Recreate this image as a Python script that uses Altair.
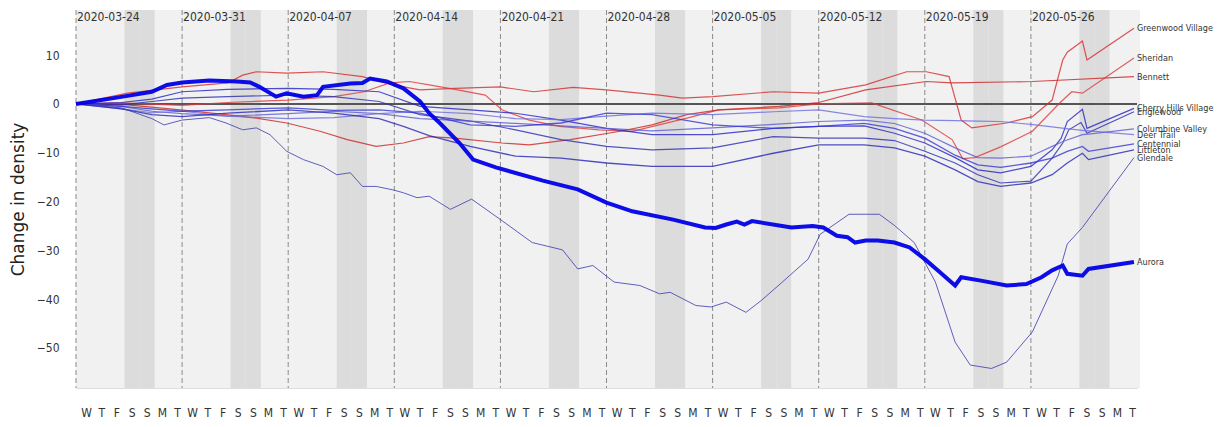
import altair as alt
import pandas as pd

# ---------------- data ----------------
week_labels = ["2020-03-24", "2020-03-31", "2020-04-07", "2020-04-14", "2020-04-21",
               "2020-04-28", "2020-05-05", "2020-05-12", "2020-05-19", "2020-05-26"]
week_days = [0, 7, 14, 21, 28, 35, 42, 49, 56, 63]
day_letters = ["W", "T", "F", "S", "S", "M", "T"] * 10

greenwood_days = [0, 3.4, 7, 10, 11, 11.9, 13.9, 16.3, 18.9, 20.9, 22.7, 25, 28, 30.2, 32.8, 35, 38.5,
                  40, 42, 46, 49, 52.1, 54.8, 56.1, 57.6, 58.4, 59.1, 61.4, 63.1, 64.4, 65.1, 65.4,
                  66.4, 66.7, 69.8]
greenwood_vals = [0, 2.2, 3.5, 4.3, 5.9, 6.6, 6.3, 6.6, 5.6, 3.9, 2.9, 3.2, 3.5, 2.5, 3.4, 2.9, 1.8,
                  1.2, 1.5, 2.5, 2.2, 3.9, 6.6, 6.6, 5.6, -3.3, -4.9, -3.9, -2.6, 0.8, 9.0, 10.6,
                  12.9, 9.0, 15.5]

sheridan_days = [0, 3, 7, 10, 14, 17, 19, 20.7, 22, 23.3, 25, 27, 28.1, 29.9, 31.9, 34.5, 36.7, 40.3,
                 42.4, 46.4, 49, 52.5, 55.8, 57.8, 58.5, 59.3, 61, 63.1, 64.9, 65.7, 66.4, 69.8]
sheridan_vals = [0, 0.2, -0.3, 0.3, 0.8, 1.5, 2.5, 4.3, 4.6, 3.9, 3.0, 1.8, -1.2, -3.3, -4.6, -5.3, -5.6,
                 -2.9, -1.2, -0.8, 0.0, 0.2, -3.3, -7.3, -11.2, -11.0, -8.8, -5.6, 0.2, 2.5, 2.2, 9.4]

bennett_days = [0, 3.4, 6.9, 9.9, 11.9, 13.9, 16.1, 17.9, 19.8, 21.6, 23.3, 25, 28.1, 29.9, 32.6, 35.9,
                38, 40.3, 42.4, 46.4, 49, 52.1, 56.1, 57.8, 63.1, 69.8]
bennett_vals = [0, -0.2, -1.2, -2.2, -2.9, -3.9, -5.6, -7.3, -8.7, -8.0, -6.7, -7.0, -8.0, -8.4, -7.3, -5.6,
                -4.3, -2.2, -1.2, -0.5, 0.3, 2.9, 4.6, 4.3, 4.6, 5.6]

cherry_days = [0, 3, 5, 7, 10, 14, 17, 20, 22.7, 26, 29, 32, 35, 38, 42, 46, 49, 52, 54, 56, 58, 59.5,
               61, 63, 64.4, 65, 65.4, 66.4, 66.7, 69.8]
cherry_vals = [0, 0.3, 1.0, 2.5, 3.0, 3.2, 3.0, 2.5, -0.5, -1.2, -1.9, -3.3, -5.0, -6.3, -6.3, -5.0, -4.6,
               -4.5, -6.0, -8.0, -11.0, -13.5, -14.1, -12.8, -9.4, -7.0, -3.6, -1.1, -5.0, -0.9]

englewood_days = [0, 3, 5, 7, 10, 14, 17, 20, 22.7, 26, 29, 32, 35, 38, 42, 46, 49, 52, 54, 56, 58, 59.5,
                  61, 63, 64.4, 65.1, 65.5, 66.3, 66.7, 69.8]
englewood_vals = [0, -0.2, 0.5, 1.2, 1.5, 1.8, 1.5, 0.5, -2.2, -3.5, -5.3, -7.3, -8.7, -9.4, -9.0, -6.7,
                  -7.0, -7.0, -7.5, -9.7, -12.1, -14.5, -16.2, -15.8, -11.1, -8.0, -5.3, -3.8, -6.0, -1.6]

centennial_days = [0, 3, 5, 7, 10, 14, 17, 20, 22.7, 26, 29, 32, 35, 38, 42, 46, 49, 52, 54, 56, 58, 59.5,
                   61, 63, 64.4, 65.4, 66.4, 66.8, 69.8]
centennial_vals = [0, -0.5, -1.0, -1.5, -1.2, -0.8, -1.3, -1.2, -1.9, -4.3, -4.6, -3.9, -1.9, -2.2, -4.3,
                   -5.0, -4.6, -4.0, -5.0, -7.0, -10.5, -12.5, -13.0, -12.1, -11.1, -9.7, -8.7, -9.7, -8.2]

littleton_days = [0, 3, 5, 7, 10, 14, 17, 20, 21.6, 23.3, 26, 29, 32, 35, 38, 42, 46, 49, 52, 54, 56, 58,
                  59.5, 61, 63, 64.4, 65.4, 66.4, 66.8, 69.8]
littleton_vals = [0, -1.0, -2.2, -2.6, -1.9, -1.2, -1.9, -3.0, -4.6, -6.5, -8.7, -10.7, -11.1, -12.1, -12.8,
                  -12.8, -10.1, -8.4, -8.4, -9.0, -10.7, -13.5, -15.9, -16.9, -16.2, -14.5, -12.1, -10.1,
                  -11.4, -9.4]

columbine_days = [0, 3, 5, 7, 10, 14, 17, 20, 22.7, 26, 29, 32, 35, 38, 42, 46, 49, 52, 54, 56, 58, 59.5,
                  61, 63, 64.4, 65.2, 66.4, 66.8, 69.8]
columbine_vals = [0, -0.5, -1.5, -2.0, -2.5, -2.0, -1.5, -2.0, -3.0, -3.5, -4.0, -4.5, -5.0, -5.5, -4.9,
                  -4.2, -3.6, -3.3, -4.0, -6.0, -9.0, -11.0, -11.1, -10.7, -8.7, -7.6, -6.3, -6.2, -5.1]

deertrail_days = [0, 3, 5, 7, 10, 14, 17, 20, 22.7, 26, 29, 32, 35, 38, 42, 46, 49, 52, 54, 56, 58, 59.5,
                  61, 63, 64.4, 65.2, 66.4, 66.8, 69.8]
deertrail_vals = [0, -1.0, -1.8, -1.5, -2.5, -3.0, -2.8, -2.0, -1.5, -2.0, -3.0, -3.2, -2.5, -1.9, -2.2,
                  -1.6, -1.2, -2.6, -3.0, -3.3, -3.4, -3.5, -3.6, -4.2, -4.7, -5.0, -5.4, -5.5, -6.3]

glendale_days = [0, 3, 5, 5.8, 7, 8.8, 9.9, 11, 11.9, 12.8, 13.9, 15, 16.3, 17.2, 18.1, 18.9, 19.8, 20.9,
                 21.6, 22.5, 23.3, 24.7, 26.1, 28.1, 30.1, 32.1, 33.1, 34.1, 35.5, 37.2, 38.5, 39.2, 40.9,
                 41.9, 42.9, 44.2, 45.2, 46.6, 48.3, 49.1, 51, 53, 54, 55.3, 56.7, 58, 59, 60.4, 61.4,
                 63.1, 64.8, 65.4, 66.4, 69.8]
glendale_vals = [0, -0.8, -3.0, -4.3, -3.3, -2.8, -3.9, -5.3, -4.9, -6.3, -9.7, -11.4, -12.8, -14.5, -14.1,
                 -16.9, -16.9, -17.6, -18.2, -19.2, -18.9, -21.6, -19.5, -23.9, -28.4, -29.9, -33.8, -33.1,
                 -36.5, -37.2, -38.9, -38.6, -41.3, -41.6, -40.6, -42.7, -40.3, -36.5, -31.8, -26.7, -22.6,
                 -22.6, -24.9, -28.4, -36.5, -48.8, -53.5, -54.2, -52.9, -46.7, -35.2, -28.7, -25.3, -11.0]

aurora_days = [0, 3.1, 5, 6, 7, 8.8, 10.6, 11.5, 12.1, 13.2, 13.9, 15, 15.9, 16.3, 18.1, 18.9, 19.4, 20.5,
               21.6, 22.7, 23.3, 24, 25.3, 26.2, 27.7, 30.8, 33.1, 35, 36.7, 39.4, 41.5, 42.2, 42.9, 43.6,
               44.1, 44.6, 47.2, 48.6, 49.3, 50.2, 50.9, 51.4, 52.1, 52.9, 54, 55, 56, 57, 58, 58.4, 59.7,
               61.4, 62.7, 63.7, 64.4, 65.1, 65.4, 66.4, 66.8, 69.8]
aurora_vals = [0, 1.5, 2.5, 3.9, 4.4, 4.8, 4.6, 4.4, 3.5, 1.5, 2.2, 1.5, 1.8, 3.5, 4.2, 4.3, 5.2, 4.6, 3.2,
               0.5, -1.9, -3.9, -8.0, -11.4, -13.0, -15.7, -17.5, -20.2, -22.0, -23.7, -25.3, -25.4, -24.7,
               -24.1, -24.7, -24.0, -25.3, -25.0, -25.3, -27.0, -27.3, -28.4, -28.0, -28.0, -28.4, -29.4,
               -31.8, -34.5, -37.2, -35.5, -36.2, -37.2, -36.9, -35.5, -34.1, -33.1, -34.8, -35.2, -33.8,
               -32.4]

# name, days, values, colour, width
series = [
    ("Greenwood Village", greenwood_days, greenwood_vals, "#d42a2a", 1.2),
    ("Sheridan", sheridan_days, sheridan_vals, "#dc3a3a", 1.2),
    ("Bennett", bennett_days, bennett_vals, "#cc2424", 1.2),
    ("Cherry Hills Village", cherry_days, cherry_vals, "#2323c4", 1.2),
    ("Englewood", englewood_days, englewood_vals, "#2a2ab2", 1.2),
    ("Columbine Valley", columbine_days, columbine_vals, "#5a5ad2", 1.2),
    ("Deer Trail", deertrail_days, deertrail_vals, "#6c6ce0", 1.2),
    ("Centennial", centennial_days, centennial_vals, "#3434d6", 1.3),
    ("Littleton", littleton_days, littleton_vals, "#2525b8", 1.3),
    ("Glendale", glendale_days, glendale_vals, "#3a3aae", 1.0),
    ("Aurora", aurora_days, aurora_vals, "#0000e6", 4.0),
]

# ---------------- layout constants ----------------
W, H = 1061, 378
X_DOM = [0, 70]
Y_DOM = [-58.2, 19.25]
SHIFT = 0.2
FONT = "DejaVu Sans Condensed, DejaVu Sans"

rows = []
for name, ds, vs, col, wd in series:
    for d, v in zip(ds, vs):
        rows.append({"name": name, "day": d, "v": v, "col": col, "w": wd})
lines_df = pd.DataFrame(rows)
labels_df = pd.DataFrame([{"name": n, "day": ds[-1], "v": vs[-1]} for n, ds, vs, c, w in series])

days_df = pd.DataFrame({
    "start": [i + SHIFT for i in range(70)],
    "end": [i + 1 + SHIFT for i in range(70)],
    "pos": [i + 0.5 + SHIFT for i in range(70)],
    "letter": day_letters,
    "kind": ["weekend" if i % 7 in (3, 4) else "weekday" for i in range(70)],
})
weeks_df = pd.DataFrame({"day": week_days, "label": week_labels})

xs = alt.Scale(domain=X_DOM, nice=False, zero=False)
ys = alt.Scale(domain=Y_DOM, nice=False, zero=False)
yaxis = alt.Axis(values=[-50, -40, -30, -20, -10, 0, 10], ticks=False, domain=False, grid=False,
                 labelPadding=17, labelFontSize=12, labelColor="#333333", labelFont=FONT,
                 titleFontSize=17, titleColor="#222222", titleFont="DejaVu Sans",
                 titleFontWeight="normal", titleX=-58, titleY=189, titleBaseline="middle")
Y = alt.Y("v:Q", scale=ys, axis=yaxis, title="Change in density")

bg_plain = alt.Chart().mark_rect(color="#f0f0f0").encode(
    x=alt.value(0), x2=alt.value(W), y=alt.value(0), y2=alt.value(H))

bg_days = alt.Chart(days_df).mark_rect().encode(
    x=alt.X("start:Q", scale=xs, axis=None),
    x2="end:Q",
    y=alt.value(0), y2=alt.value(H),
    color=alt.Color("kind:N", scale=alt.Scale(domain=["weekday", "weekend"],
                                              range=["#f1f1f1", "#dcdcdc"]), legend=None),
)

dashes = alt.Chart(weeks_df).mark_rule(color="#8a8a8a", strokeDash=[5, 3], strokeWidth=1).encode(
    x=alt.X("day:Q", scale=xs, axis=None), y=alt.value(0), y2=alt.value(H))

week_text = alt.Chart(weeks_df).mark_text(align="left", baseline="middle", dx=1, fontSize=12,
                                          font=FONT, color="#333333").encode(
    x=alt.X("day:Q", scale=xs, axis=None), y=alt.value(7), text="label:N")

zero_line = alt.Chart(pd.DataFrame({"v": [0]})).mark_rule(color="#555555", strokeWidth=2).encode(y=Y)

base_enc = dict(
    x=alt.X("day:Q", scale=xs, axis=None),
    y=Y,
    detail="name:N",
    color=alt.Color("col:N", scale=None),
    size=alt.Size("w:Q", scale=None),
)
thin_lines = alt.Chart(lines_df).mark_line(opacity=0.8).encode(**base_enc).transform_filter(
    alt.datum.name != "Aurora")
thick_line = alt.Chart(lines_df).mark_line(opacity=0.95).encode(**base_enc).transform_filter(
    alt.datum.name == "Aurora")

end_labels = alt.Chart(labels_df).mark_text(align="left", baseline="middle", dx=3, fontSize=9,
                                            font=FONT, color="#333333").encode(
    x=alt.X("day:Q", scale=xs, axis=None), y=Y, text="name:N")

day_text = alt.Chart(days_df).mark_text(baseline="middle", fontSize=12, font=FONT,
                                        color="#333333").encode(
    x=alt.X("pos:Q", scale=xs, axis=None), y=alt.value(403), text="letter:N")

chart = alt.layer(
    bg_plain, bg_days, dashes, zero_line, thin_lines, thick_line, end_labels, week_text, day_text
).properties(
    width=W, height=H,
    padding={"left": 68, "top": 2, "right": 80, "bottom": 32},
    autosize=alt.AutoSizeParams(type="none"),
).configure_view(stroke=None).configure(background="white")

chart.save("out.html", embed_options={"renderer": "svg", "actions": False})
